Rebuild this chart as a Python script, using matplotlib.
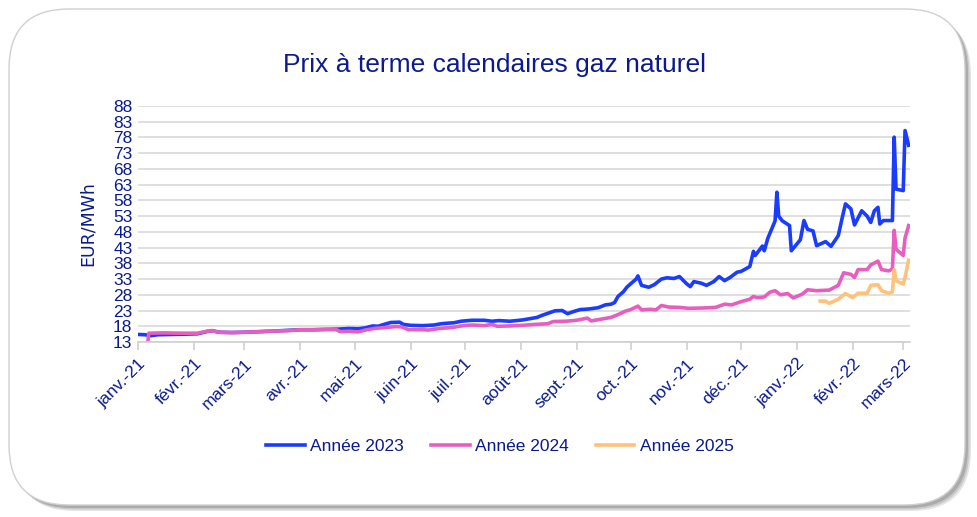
import pandas as pd
import matplotlib
matplotlib.use("Agg")
import matplotlib.pyplot as plt
from matplotlib.patches import FancyBboxPatch

plt.rcParams["font.family"] = ["Liberation Sans Narrow", "Liberation Sans", "DejaVu Sans"]

# --- data ---
dates_2023 = [
    "2021-01-01", "2021-01-05", "2021-01-08", "2021-01-12", "2021-01-20", "2021-01-28",
    "2021-02-03", "2021-02-08", "2021-02-11", "2021-02-15", "2021-02-22", "2021-03-01",
    "2021-03-10", "2021-03-18", "2021-03-25", "2021-04-01", "2021-04-08", "2021-04-15",
    "2021-04-22", "2021-04-28", "2021-05-03", "2021-05-07", "2021-05-11", "2021-05-14",
    "2021-05-18", "2021-05-21", "2021-05-26", "2021-05-28", "2021-06-01", "2021-06-08",
    "2021-06-14", "2021-06-18", "2021-06-22", "2021-06-25", "2021-06-29", "2021-07-05",
    "2021-07-12", "2021-07-16", "2021-07-20", "2021-07-26", "2021-08-02", "2021-08-06",
    "2021-08-10", "2021-08-13", "2021-08-17", "2021-08-20", "2021-08-24", "2021-08-27",
    "2021-08-31", "2021-09-03", "2021-09-08", "2021-09-13", "2021-09-17", "2021-09-20",
    "2021-09-22", "2021-09-24", "2021-09-27", "2021-09-29", "2021-10-01", "2021-10-04",
    "2021-10-05", "2021-10-07", "2021-10-11", "2021-10-14", "2021-10-18", "2021-10-21",
    "2021-10-25", "2021-10-28", "2021-11-01", "2021-11-03", "2021-11-05", "2021-11-09",
    "2021-11-12", "2021-11-16", "2021-11-19", "2021-11-22", "2021-11-25", "2021-11-29",
    "2021-12-01", "2021-12-03", "2021-12-06", "2021-12-08", "2021-12-09", "2021-12-13",
    "2021-12-14", "2021-12-16", "2021-12-20", "2021-12-21", "2021-12-22", "2021-12-24",
    "2021-12-28", "2021-12-29", "2022-01-03", "2022-01-05", "2022-01-07", "2022-01-10",
    "2022-01-12", "2022-01-17", "2022-01-20", "2022-01-24", "2022-01-26", "2022-01-28",
    "2022-01-31", "2022-02-02", "2022-02-06", "2022-02-09", "2022-02-11", "2022-02-13",
    "2022-02-15", "2022-02-16", "2022-02-18", "2022-02-23", "2022-02-24", "2022-02-25",
    "2022-03-01", "2022-03-02", "2022-03-04",
]
prix_2023 = [
    15.4, 15.3, 15.0, 15.3, 15.4, 15.5,
    15.6, 16.3, 16.6, 16.1, 16.0, 16.1,
    16.3, 16.5, 16.7, 16.9, 16.9, 17.0,
    17.1, 17.3, 17.2, 17.5, 18.1, 18.0,
    18.7, 19.2, 19.3, 18.6, 18.3, 18.2,
    18.4, 18.8, 19.0, 19.1, 19.6, 19.9,
    19.9, 19.6, 19.8, 19.6, 20.0, 20.4,
    20.8, 21.5, 22.3, 22.9, 23.0, 22.0,
    22.8, 23.3, 23.5, 23.9, 24.8, 25.0,
    25.5, 27.5, 29.0, 30.5, 31.5, 33.0,
    34.0, 31.0, 30.4, 31.2, 33.0, 33.4,
    33.2, 33.8, 31.5, 30.6, 32.2, 31.7,
    31.0, 32.2, 33.8, 32.5, 33.5, 35.2,
    35.4, 36.0, 37.0, 41.8, 40.5, 43.5,
    42.0, 46.0, 51.5, 60.6, 53.0, 51.5,
    50.0, 42.0, 45.5, 51.6, 48.8, 48.3,
    43.6, 44.9, 43.4, 46.8, 52.0, 56.9,
    55.3, 50.2, 54.7, 53.0, 51.0, 54.7,
    55.8, 50.5, 51.6, 51.6, 78.1, 61.6,
    61.1, 80.2, 75.5,
]

dates_2024 = [
    "2021-01-06", "2021-01-07", "2021-01-15", "2021-01-25", "2021-02-03", "2021-02-08",
    "2021-02-11", "2021-02-15", "2021-02-22", "2021-03-01", "2021-03-10", "2021-03-18",
    "2021-03-25", "2021-04-01", "2021-04-08", "2021-04-15", "2021-04-21", "2021-04-23",
    "2021-04-28", "2021-05-03", "2021-05-07", "2021-05-12", "2021-05-18", "2021-05-24",
    "2021-05-27", "2021-05-31", "2021-06-07", "2021-06-11", "2021-06-17", "2021-06-24",
    "2021-06-29", "2021-07-05", "2021-07-12", "2021-07-16", "2021-07-19", "2021-07-26",
    "2021-08-02", "2021-08-09", "2021-08-16", "2021-08-19", "2021-08-26", "2021-09-01",
    "2021-09-07", "2021-09-09", "2021-09-14", "2021-09-20", "2021-09-24", "2021-09-28",
    "2021-10-01", "2021-10-05", "2021-10-07", "2021-10-12", "2021-10-15", "2021-10-18",
    "2021-10-22", "2021-10-28", "2021-11-02", "2021-11-10", "2021-11-17", "2021-11-22",
    "2021-11-26", "2021-12-01", "2021-12-06", "2021-12-08", "2021-12-10", "2021-12-14",
    "2021-12-17", "2021-12-20", "2021-12-23", "2021-12-27", "2021-12-30", "2022-01-04",
    "2022-01-07", "2022-01-12", "2022-01-19", "2022-01-24", "2022-01-27", "2022-01-31",
    "2022-02-02", "2022-02-04", "2022-02-09", "2022-02-11", "2022-02-15", "2022-02-17",
    "2022-02-21", "2022-02-23", "2022-02-24", "2022-02-25", "2022-03-01", "2022-03-02",
    "2022-03-04",
]
prix_2024 = [
    11.0, 15.8, 15.9, 15.8, 15.8, 16.4,
    16.6, 16.1, 16.0, 16.1, 16.3, 16.5,
    16.6, 16.9, 16.9, 17.0, 16.9, 16.3,
    16.4, 16.2, 16.8, 17.3, 17.6, 17.9,
    17.8, 16.9, 16.9, 16.8, 17.3, 17.6,
    18.1, 18.4, 18.2, 18.6, 18.0, 18.1,
    18.3, 18.6, 18.8, 19.5, 19.6, 19.9,
    20.6, 19.7, 20.2, 20.8, 21.7, 22.8,
    23.3, 24.4, 23.2, 23.4, 23.2, 24.6,
    24.1, 24.0, 23.7, 23.8, 24.0, 25.0,
    24.8, 25.8, 26.6, 27.5, 27.1, 27.3,
    28.8, 29.3, 28.0, 28.4, 27.0, 28.2,
    29.6, 29.3, 29.5, 31.0, 35.0, 34.5,
    33.5, 36.0, 36.0, 37.5, 38.7, 36.0,
    35.6, 36.2, 48.5, 42.5, 40.5, 46.0,
    50.0,
]

dates_2025 = [
    "2022-01-14", "2022-01-17", "2022-01-19", "2022-01-24", "2022-01-28", "2022-02-01",
    "2022-02-04", "2022-02-09", "2022-02-11", "2022-02-15", "2022-02-17", "2022-02-21",
    "2022-02-23", "2022-02-24", "2022-02-25", "2022-03-01", "2022-03-02", "2022-03-04",
]
prix_2025 = [
    26.0, 26.0, 25.3, 26.6, 28.4, 27.1,
    28.5, 28.5, 31.0, 31.2, 29.3, 28.5,
    28.9, 36.0, 32.5, 31.4, 33.5, 39.0,
]

mois = ["janv.-21", "févr.-21", "mars-21", "avr.-21", "mai-21", "juin-21", "juil.-21",
        "août-21", "sept.-21", "oct.-21", "nov.-21", "déc.-21", "janv.-22", "févr.-22",
        "mars-22"]
y_ticks = list(range(13, 89, 5))

navy = "#0b1a8c"

fig = plt.figure(figsize=(9.78, 5.17), dpi=100)

# rounded frame with soft shadow, kept behind the axes
for off, a in [(0.06, 0.10), (0.045, 0.12), (0.03, 0.15)]:
    sh = FancyBboxPatch((0.09 + off, 0.12 - off), 9.56, 4.96,
                        boxstyle="round,pad=0,rounding_size=0.6",
                        transform=fig.dpi_scale_trans, facecolor="black",
                        edgecolor="none", alpha=a, zorder=-3)
    fig.patches.append(sh)
frame = FancyBboxPatch((0.09, 0.12), 9.56, 4.96,
                       boxstyle="round,pad=0,rounding_size=0.6",
                       transform=fig.dpi_scale_trans, facecolor="white",
                       edgecolor="#d0d0d0", linewidth=1.0, zorder=-2)
fig.patches.append(frame)

ax = fig.add_axes([138 / 978, 1 - 342 / 517, (910 - 138) / 978, (342 - 106) / 517])
ax.set_facecolor("none")

ax.plot(pd.to_datetime(dates_2023), prix_2023, color="#1a3cff", lw=2.6, label="Année 2023")
ax.plot(pd.to_datetime(dates_2024), prix_2024, color="#e85ec0", lw=2.6, label="Année 2024")
ax.plot(pd.to_datetime(dates_2025), prix_2025, color="#ffc27a", lw=2.6, label="Année 2025")

ax.set_ylim(13, 88)
ax.set_xlim(pd.Timestamp("2021-01-01"), pd.Timestamp("2022-03-04 18:00"))
ax.set_yticks(y_ticks)
ax.set_yticklabels([str(v) for v in y_ticks], color=navy, fontsize=12.5)
ax.yaxis.grid(True, color="#d9d9d9", lw=1.2)
ax.set_axisbelow(True)
ax.tick_params(axis="y", length=0, pad=4)

month_pos = pd.date_range("2021-01-01", "2022-03-01", freq="MS")
ax.set_xticks(month_pos)
ax.set_xticklabels(mois, rotation=45, ha="right", rotation_mode="anchor",
                   color=navy, fontsize=12.5)
ax.tick_params(axis="x", length=6, width=1.2, color="#d0d0d0", pad=4)

for s in ["top", "right", "left"]:
    ax.spines[s].set_visible(False)
ax.spines["bottom"].set_color("#d0d0d0")
ax.spines["bottom"].set_linewidth(1.2)

ax.set_ylabel("EUR/MWh", color=navy, fontsize=12.5, family="DejaVu Sans", labelpad=12)

fig.text(495 / 978, 1 - 65 / 517, "Prix à terme calendaires gaz naturel",
         ha="center", va="center", color=navy, fontsize=19)

leg = fig.legend(loc="center", bbox_to_anchor=(500 / 978, 1 - 446 / 517), ncol=3,
                 frameon=False, fontsize=12.5, handlelength=2.2, handletextpad=0.3,
                 columnspacing=1.6)
for t in leg.get_texts():
    t.set_color(navy)

fig.savefig("out.png", dpi=100)
